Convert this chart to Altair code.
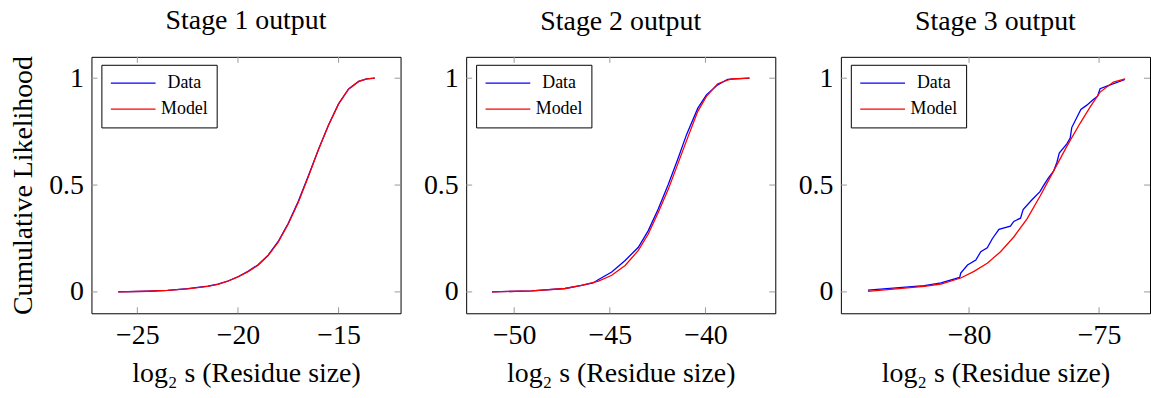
import altair as alt
import pandas as pd

FONT = "Liberation Serif"
W, H = 311, 258

titles = ["Stage 1 output", "Stage 2 output", "Stage 3 output"]
x_domains = [[-27.28, -11.92], [-52.51, -36.35], [-84.93, -73.04]]
x_ticks = [[-25, -20, -15], [-50, -45, -40], [-80, -75]]
y_ticks = [0, 0.5, 1]
series_names = ["Data", "Model"]
series_colors = ["#0000ff", "#ff0000"]

# Stage 1
s1_model_x = [-25.95, -24.5, -23.5, -22.5, -21.5, -21.0, -20.5, -20.0, -19.5, -19.0, -18.5,
              -18.0, -17.5, -17.0, -16.5, -16.0, -15.5, -15.0, -14.5, -14.0, -13.6, -13.2]
s1_model_y = [0.0, 0.003, 0.007, 0.014, 0.026, 0.035, 0.05, 0.07, 0.095, 0.125, 0.17,
              0.233, 0.318, 0.42, 0.54, 0.665, 0.78, 0.88, 0.95, 0.985, 0.997, 1.0]
s1_data_x = [-25.95, -24.5, -23.5, -22.5, -21.5, -21.0, -20.5, -20.0, -19.5, -19.0, -18.5,
             -18.0, -17.5, -17.0, -16.5, -16.0, -15.5, -15.0, -14.5, -14.0, -13.6, -13.2]
s1_data_y = [0.0, 0.003, 0.007, 0.015, 0.027, 0.036, 0.051, 0.071, 0.096, 0.127, 0.172,
             0.236, 0.321, 0.424, 0.544, 0.667, 0.781, 0.88, 0.95, 0.985, 0.997, 1.0]

# Stage 2
s2_model_x = [-51.16, -49.08, -47.34, -46.48, -45.59, -44.9, -44.2, -43.51, -42.99, -42.47,
              -41.94, -41.42, -40.9, -40.4, -39.95, -39.36, -38.66, -37.7]
s2_model_y = [0.0, 0.005, 0.016, 0.031, 0.051, 0.078, 0.124, 0.194, 0.271, 0.372,
              0.481, 0.605, 0.729, 0.845, 0.915, 0.974, 0.997, 1.0]
s2_data_x = [-51.16, -49.08, -47.34, -46.48, -45.87, -45.61, -44.9, -44.2, -43.51, -42.99,
             -42.47, -41.94, -41.42, -40.99, -40.4, -39.95, -39.36, -38.84, -37.7]
s2_data_y = [0.0, 0.005, 0.016, 0.031, 0.042, 0.057, 0.093, 0.147, 0.209, 0.287,
             0.388, 0.504, 0.628, 0.736, 0.86, 0.922, 0.969, 0.995, 1.0]

# Stage 3
s3_model_x = [-83.89, -81.72, -81.08, -80.32, -79.81, -79.3, -78.79, -78.28, -77.77, -77.26,
              -76.75, -76.24, -75.73, -75.34, -74.96, -74.45, -74.0]
s3_model_y = [0.003, 0.026, 0.037, 0.065, 0.096, 0.134, 0.188, 0.257, 0.342, 0.45,
              0.565, 0.681, 0.789, 0.866, 0.935, 0.982, 0.997]
s3_data_x = [-83.89, -81.72, -81.08, -80.36, -80.32, -80.06, -79.74, -79.55, -79.3, -79.1,
             -78.85, -78.41, -78.28, -78.02, -77.92, -77.58, -77.28, -77.1, -76.94, -76.75,
             -76.62, -76.53, -76.24, -76.11, -76.05, -75.7, -75.47, -75.22, -75.06, -74.96,
             -74.7, -74.0]
s3_data_y = [0.008, 0.029, 0.042, 0.068, 0.088, 0.126, 0.149, 0.188, 0.206, 0.25,
             0.293, 0.308, 0.33, 0.345, 0.385, 0.431, 0.468, 0.504, 0.535, 0.565,
             0.607, 0.65, 0.693, 0.72, 0.769, 0.854, 0.874, 0.9, 0.915, 0.951,
             0.963, 0.994]

panels = [
    (s1_data_x, s1_data_y, s1_model_x, s1_model_y),
    (s2_data_x, s2_data_y, s2_model_x, s2_model_y),
    (s3_data_x, s3_data_y, s3_model_x, s3_model_y),
]


def make_panel(i):
    dx, dy, mx, my = panels[i]
    df = pd.concat([
        pd.DataFrame({"x": dx, "y": dy, "series": "Data"}),
        pd.DataFrame({"x": mx, "y": my, "series": "Model"}),
    ])
    xs = alt.Scale(domain=x_domains[i], nice=False, zero=False)
    ys = alt.Scale(domain=[-0.1, 1.1], nice=False, zero=False)
    x_axis = alt.Axis(values=x_ticks[i], format="d", title="log\u2082 s (Residue size)")
    if i == 0:
        y_axis = alt.Axis(values=y_ticks, labelExpr="'' + datum.value",
                          title="Cumulative Likelihood")
    else:
        y_axis = alt.Axis(values=y_ticks, labelExpr="'' + datum.value", title="")
    lines = alt.Chart(df).mark_line(strokeWidth=1.3).encode(
        x=alt.X("x:Q", scale=xs, axis=x_axis),
        y=alt.Y("y:Q", scale=ys, axis=y_axis),
        color=alt.Color("series:N",
                        scale=alt.Scale(domain=series_names, range=series_colors),
                        legend=alt.Legend(title=None, orient="none", legendX=10, legendY=8,
                                          symbolType="stroke", symbolSize=2025,
                                          symbolStrokeWidth=1.3, labelFont=FONT,
                                          labelFontSize=18, labelColor="black",
                                          strokeColor="black", fillColor="white",
                                          padding=8.5, rowPadding=6, clipHeight=20,
                                          labelAlign="center", labelOffset=28,
                                          labelExpr="'\u00a0' + datum.label + '\u00a0'",
                                          cornerRadius=0)),
    )
    xt = pd.DataFrame({"x": x_ticks[i]})
    yt = pd.DataFrame({"y": y_ticks})
    tick_style = dict(color="#999999", strokeWidth=1)
    xb = alt.Chart(xt).mark_rule(**tick_style).encode(
        x=alt.X("x:Q", scale=xs, axis=x_axis), y=alt.value(H), y2=alt.value(H - 6))
    xtop = alt.Chart(xt).mark_rule(**tick_style).encode(
        x=alt.X("x:Q", scale=xs, axis=x_axis), y=alt.value(0), y2=alt.value(6))
    yl = alt.Chart(yt).mark_rule(**tick_style).encode(
        y=alt.Y("y:Q", scale=ys, axis=y_axis), x=alt.value(0), x2=alt.value(6))
    yr = alt.Chart(yt).mark_rule(**tick_style).encode(
        y=alt.Y("y:Q", scale=ys, axis=y_axis), x=alt.value(W - 6), x2=alt.value(W))
    return alt.layer(lines, xb, xtop, yl, yr).properties(
        width=W, height=H,
        title=alt.TitleParams(titles[i], font=FONT, fontSize=28, fontWeight="normal",
                              color="black", offset=21),
    )


chart = alt.hconcat(make_panel(0), make_panel(1), make_panel(2), spacing=21).resolve_scale(
    color="independent", x="independent"
).properties(
    padding={"left": 9, "top": 5, "right": 0, "bottom": 0},
    background="white",
).configure_view(
    stroke="black", strokeWidth=1
).configure_axis(
    domain=False, ticks=False, grid=False, labelFont=FONT, labelFontSize=28,
    labelColor="black", titleFont=FONT, titleFontSize=28, titleFontWeight="normal",
    titleColor="black", labelPadding=8, titlePadding=11
)

chart.save("out.html", embed_options={"renderer": "svg", "actions": False})
